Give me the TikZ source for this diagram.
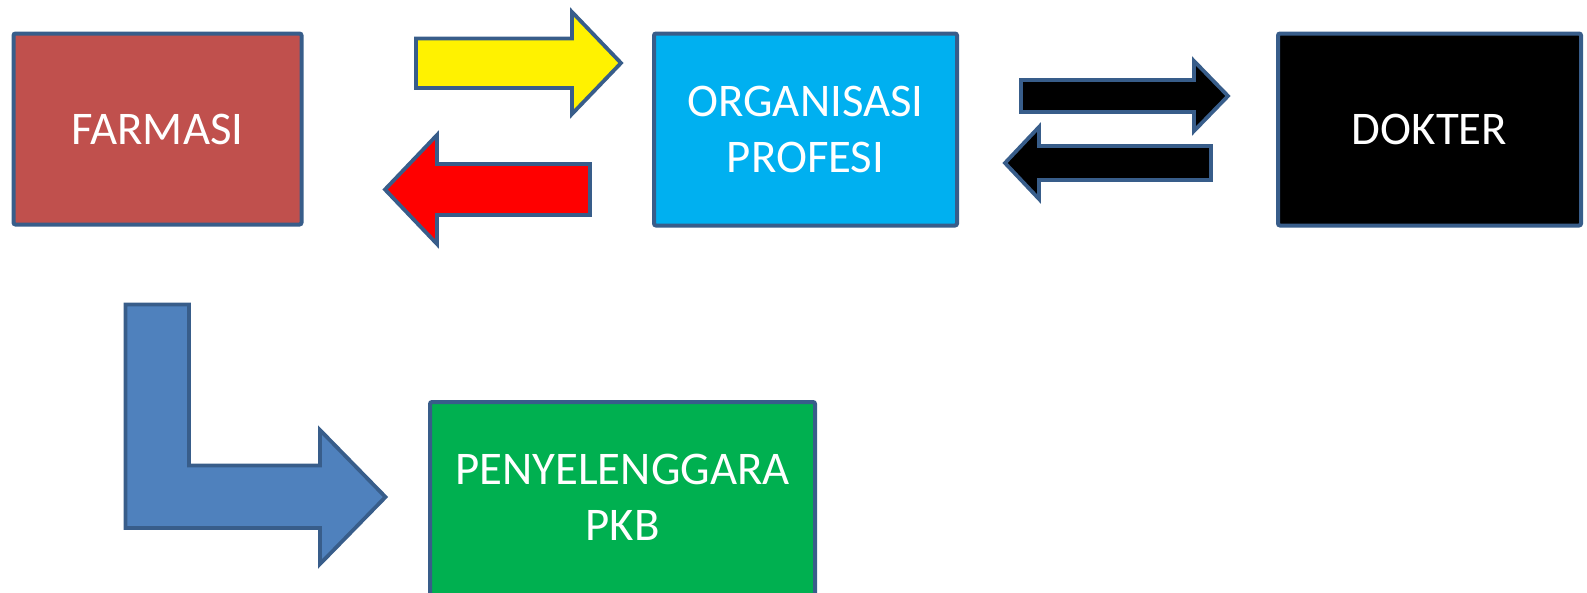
\documentclass[tikz,border=0pt]{standalone}
\usepackage{fontspec}
\setmainfont{Carlito}
\definecolor{edge}{HTML}{385D8A}
\definecolor{farm}{HTML}{C0504D}
\definecolor{org}{HTML}{00B0F0}
\definecolor{pkb}{HTML}{00B050}
\definecolor{bent}{HTML}{4F81BD}
\tikzset{
  box/.style={draw=edge, line width=4pt, rounded corners=2pt, text=white,
    align=center, inner sep=0pt, font=\fontsize{46.8}{56.5}\selectfont},
  boxtext/.style={text=white, align=center, inner sep=0pt, font=\fontsize{46.8}{56.5}\selectfont},
  blockarrow/.style={draw=edge, line width=3.8pt, line join=miter}
}
\begin{document}
\begin{tikzpicture}[x=1pt,y=-1pt]
\useasboundingbox (0,0) rectangle (1587,592);
\node[box, fill=farm, minimum width=288pt, minimum height=191pt] (farmasi) at (157.5,129) {FARMASI};
\node[box, fill=org, minimum width=303pt, minimum height=192pt] (org) at (805.5,129.5) {ORGANISASI\\PROFESI};
\node[box, fill=black, minimum width=303pt, minimum height=192pt] (dokter) at (1429.5,129.5) {DOKTER};
\node[box, fill=pkb, minimum width=385pt, minimum height=200pt] (pkb) at (622.5,502) {};
\node[boxtext] (pkbtext) at ([yshift=4.5pt]pkb.center) {PENYELENGGARA\\PKB};
% yellow arrow FARMASI -> ORGANISASI
\draw[blockarrow, fill=yellow] (416,38.5) -- (572,38.5) -- (572,12) -- (621,63) -- (572,114) -- (572,88) -- (416,88) -- cycle;
% red arrow ORGANISASI -> FARMASI
\draw[blockarrow, fill=red] (590,164) -- (437,164) -- (437,135) -- (385,189.5) -- (437,244) -- (437,215) -- (590,215) -- cycle;
% black arrow ORGANISASI -> DOKTER
\draw[blockarrow, fill=black] (1021,80) -- (1194,80) -- (1194,61) -- (1228,96) -- (1194,131) -- (1194,112) -- (1021,112) -- cycle;
% black arrow DOKTER -> ORGANISASI
\draw[blockarrow, fill=black] (1211,146) -- (1039,146) -- (1039,127) -- (1005,163) -- (1039,199) -- (1039,180) -- (1211,180) -- cycle;
% bent arrow FARMASI -> PENYELENGGARA
\draw[blockarrow, fill=bent] (125.5,304.5) -- (189,304.5) -- (189,465.5) -- (320,465.5) -- (320,430) -- (385.5,497) -- (320,564) -- (320,528) -- (125.5,528) -- cycle;
\end{tikzpicture}
\end{document}
